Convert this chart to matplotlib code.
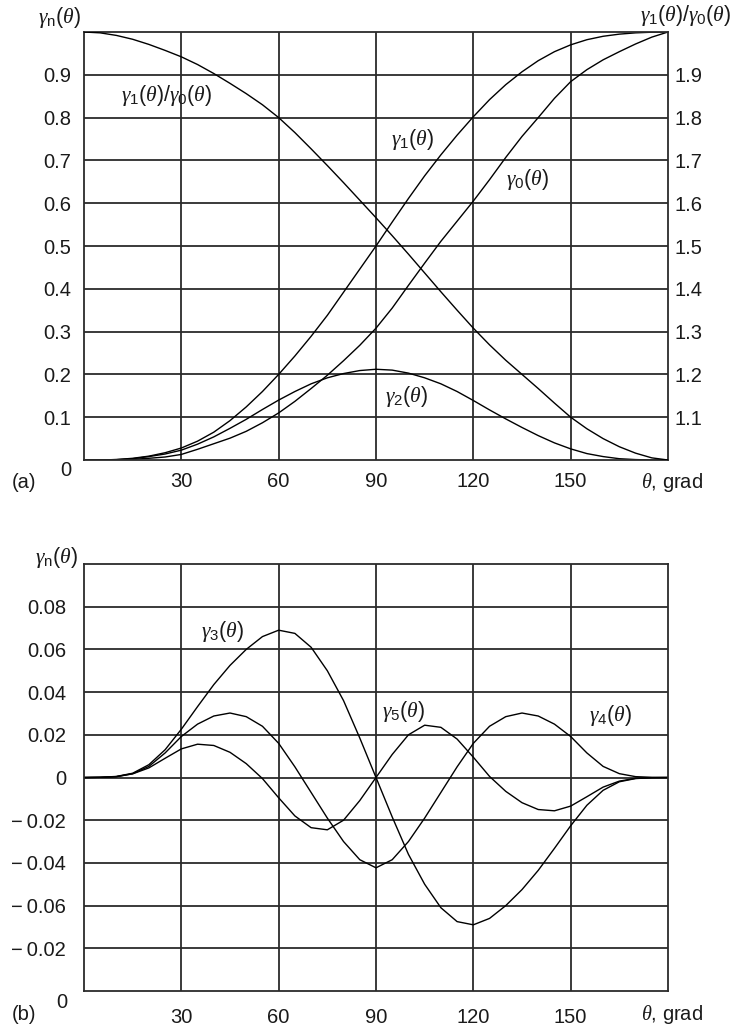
import matplotlib
matplotlib.use("Agg")
import matplotlib.pyplot as plt

plt.rcParams['font.family'] = ['Liberation Sans', 'DejaVu Sans']
plt.rcParams['mathtext.fontset'] = 'custom'
plt.rcParams['mathtext.rm'] = 'Liberation Sans'
plt.rcParams['mathtext.it'] = 'Liberation Serif:italic'
plt.rcParams['mathtext.bf'] = 'Liberation Sans:bold'

# ---------------- data ----------------
theta = [0, 5, 10, 15, 20, 25, 30, 35, 40, 45, 50, 55, 60, 65, 70, 75, 80, 85, 90,
         95, 100, 105, 110, 115, 120, 125, 130, 135, 140, 145, 150, 155, 160, 165, 170, 175, 180]

# panel (a)
ratio10 = [2.000, 1.998, 1.992, 1.983, 1.971, 1.957, 1.942, 1.924, 1.903, 1.880, 1.856, 1.830,
           1.800, 1.765, 1.727, 1.688, 1.648, 1.607, 1.566, 1.524, 1.481, 1.437, 1.393, 1.350,
           1.308, 1.269, 1.233, 1.200, 1.167, 1.133, 1.100, 1.073, 1.050, 1.031, 1.016, 1.005, 1.000]
gamma1 = [0.000, 0.0002, 0.001, 0.004, 0.009, 0.017, 0.028, 0.044, 0.065, 0.092, 0.124, 0.160,
          0.200, 0.243, 0.289, 0.338, 0.392, 0.446, 0.500, 0.556, 0.611, 0.664, 0.713, 0.759,
          0.802, 0.842, 0.877, 0.907, 0.933, 0.954, 0.970, 0.982, 0.990, 0.995, 0.998, 0.9995, 1.000]
gamma0 = [0.000, 0.000, 0.0003, 0.0015, 0.004, 0.007, 0.013, 0.025, 0.038, 0.051, 0.067, 0.087,
          0.110, 0.137, 0.167, 0.198, 0.232, 0.268, 0.308, 0.355, 0.408, 0.460, 0.511, 0.558,
          0.605, 0.655, 0.707, 0.756, 0.800, 0.845, 0.884, 0.912, 0.935, 0.954, 0.972, 0.988, 1.000]
gamma2 = [0.000, 0.000, 0.001, 0.003, 0.008, 0.014, 0.023, 0.037, 0.054, 0.074, 0.095, 0.118,
          0.140, 0.160, 0.178, 0.192, 0.202, 0.209, 0.212, 0.210, 0.203, 0.192, 0.178, 0.160,
          0.139, 0.117, 0.096, 0.076, 0.057, 0.040, 0.026, 0.015, 0.008, 0.003, 0.001, 0.000, 0.000]

# panel (b)
gamma3 = [0.0000, 0.0001, 0.0005, 0.0020, 0.0060, 0.0130, 0.0226, 0.0332, 0.0435, 0.0525, 0.0600,
          0.0660, 0.0690, 0.0675, 0.0610, 0.0500, 0.0360, 0.0185, 0.0000, -0.0185, -0.0360, -0.0500,
          -0.0610, -0.0675, -0.0690, -0.0660, -0.0600, -0.0525, -0.0435, -0.0332, -0.0226, -0.0130,
          -0.0060, -0.0020, -0.0005, -0.0001, 0.0000]
gamma4 = [0.0000, 0.0001, 0.0004, 0.0018, 0.0052, 0.0115, 0.0192, 0.0250, 0.0288, 0.0302, 0.0285,
          0.0240, 0.0160, 0.0050, -0.0070, -0.0190, -0.0300, -0.0385, -0.0423, -0.0385, -0.0300,
          -0.0190, -0.0070, 0.0050, 0.0160, 0.0240, 0.0285, 0.0302, 0.0288, 0.0250, 0.0192, 0.0115,
          0.0052, 0.0018, 0.0004, 0.0001, 0.0000]
gamma5 = [0.0000, 0.0001, 0.0004, 0.0017, 0.0045, 0.0090, 0.0134, 0.0156, 0.0150, 0.0118, 0.0065,
          -0.0005, -0.0095, -0.0180, -0.0235, -0.0245, -0.0200, -0.0108, 0.0000, 0.0108, 0.0200,
          0.0245, 0.0235, 0.0180, 0.0095, 0.0005, -0.0065, -0.0118, -0.0150, -0.0156, -0.0134,
          -0.0090, -0.0045, -0.0017, -0.0004, -0.0001, 0.0000]

xticks = [30, 60, 90, 120, 150]
yticks_a = [0.1, 0.2, 0.3, 0.4, 0.5, 0.6, 0.7, 0.8, 0.9]
yticklabels_a = ['0.1', '0.2', '0.3', '0.4', '0.5', '0.6', '0.7', '0.8', '0.9']
yticks_r = [1.1, 1.2, 1.3, 1.4, 1.5, 1.6, 1.7, 1.8, 1.9]
yticklabels_r = ['1.1', '1.2', '1.3', '1.4', '1.5', '1.6', '1.7', '1.8', '1.9']
yticks_b = [-0.08, -0.06, -0.04, -0.02, 0.0, 0.02, 0.04, 0.06, 0.08]
yticklabels_b = ['\u2212\u20090.02', '\u2212\u20090.06', '\u2212\u20090.04', '\u2212\u20090.02', '0',
                 '0.02', '0.04', '0.06', '0.08']

# ---------------- figure ----------------
W, H = 735, 1027
fig = plt.figure(figsize=(W / 100, H / 100), dpi=100)

def frac(l, t, r, b):
    return [l / W, 1 - b / H, (r - l) / W, (b - t) / H]

GRID = '#2b2b2b'
FS = 14.5
LFS = 15.5
TXT = '#1a1a1a'

def style(ax):
    ax.set_xlim(0, 180)
    ax.set_xticks(xticks)
    ax.tick_params(axis='both', length=0, labelsize=FS, colors=TXT)
    ax.grid(True, color=GRID, lw=1.3)
    ax.set_axisbelow(True)
    for s in ax.spines.values():
        s.set_color(GRID)
        s.set_linewidth(1.3)

# panel (a)
axa = fig.add_axes(frac(84, 32, 668, 460))
style(axa)
axa.set_ylim(0, 1)
axa.set_yticks(yticks_a)
axa.set_yticklabels(yticklabels_a)
axa.tick_params(axis='y', pad=9)
axa.tick_params(axis='x', pad=8.5)
axa.plot(theta, gamma1, color='black', lw=1.0)
axa.plot(theta, gamma0, color='black', lw=1.0)
axa.plot(theta, gamma2, color='black', lw=1.0)
axr = axa.twinx()
axr.set_ylim(1, 2)
axr.set_yticks(yticks_r)
axr.set_yticklabels(yticklabels_r)
axr.tick_params(axis='y', length=0, labelsize=FS, pad=5, colors=TXT)
for s in axr.spines.values():
    s.set_visible(False)
axr.plot(theta, ratio10, color='black', lw=1.0)

# panel (b)
axb = fig.add_axes(frac(84, 564, 668, 991))
style(axb)
axb.set_ylim(-0.1, 0.1)
axb.set_yticks(yticks_b)
axb.set_yticklabels(yticklabels_b)
axb.tick_params(axis='y', pad=13)
axb.tick_params(axis='x', pad=12)
axb.plot(theta, gamma3, color='black', lw=1.0)
axb.plot(theta, gamma4, color='black', lw=1.0)
axb.plot(theta, gamma5, color='black', lw=1.0)

# ---------------- texts (figure pixel positions) ----------------
def ftext(x, y, s, fs=FS, ha='center', va='center'):
    fig.text(x / W, 1 - y / H, s, fontsize=fs, ha=ha, va=va, color=TXT)

ftext(59, 18, r'$\gamma_{\mathrm{n}}(\theta)$', LFS)
ftext(56, 557, r'$\gamma_{\mathrm{n}}(\theta)$', LFS)
ftext(686, 16, r'$\gamma_1(\theta)/\gamma_0(\theta)$', LFS)
ftext(66, 471, '0')
ftext(24, 483, '(a)')
ftext(641, 482, r'$\theta$, grad', ha='left')
ftext(62, 1002, '0')
ftext(24, 1015, '(b)')
ftext(641, 1014, r'$\theta$, grad', ha='left')

ftext(167, 96, r'$\gamma_1(\theta)/\gamma_0(\theta)$', LFS)
ftext(412, 139, r'$\gamma_1(\theta)$', LFS)
ftext(527, 180, r'$\gamma_0(\theta)$', LFS)
ftext(406, 397, r'$\gamma_2(\theta)$', LFS)
ftext(222, 632, r'$\gamma_3(\theta)$', LFS)
ftext(403, 712, r'$\gamma_5(\theta)$', LFS)
ftext(610, 715, r'$\gamma_4(\theta)$', LFS)

fig.savefig('out.png', dpi=100)
